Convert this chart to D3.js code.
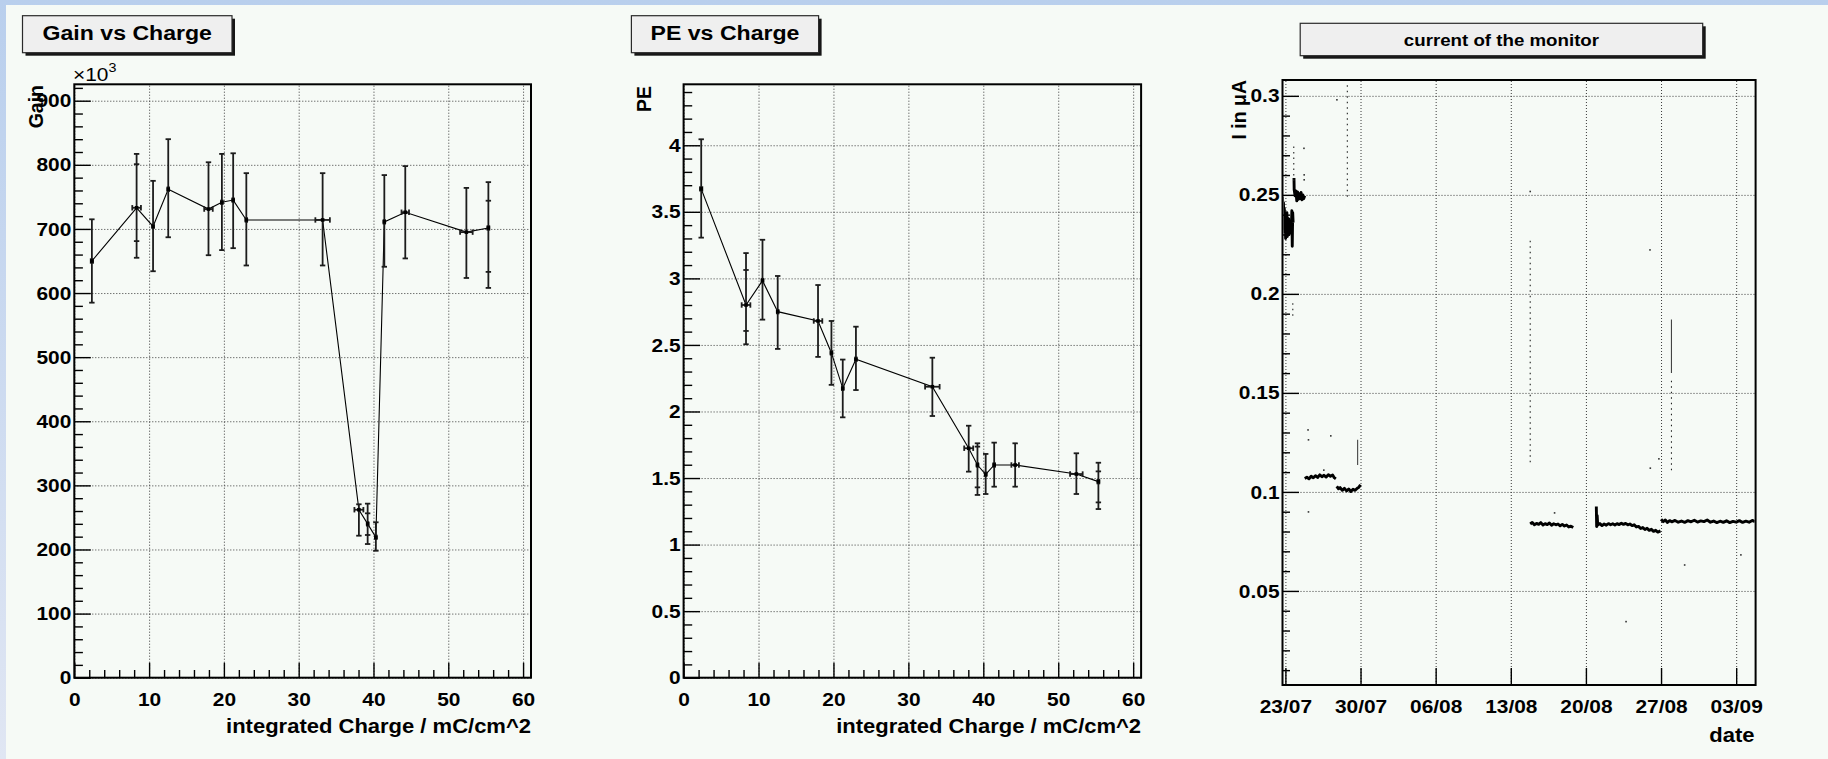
<!DOCTYPE html>
<html>
<head>
<meta charset="utf-8">
<script src="https://cdn.jsdelivr.net/npm/d3@7"></script>
<style>
  html, body { margin: 0; padding: 0; overflow: hidden; background: #ffffff; }
  svg { display: block; }
</style>
</head>
<body>
<svg id="canvas" width="1828" height="759"></svg>
<script>
// ---------------------------------------------------------------------------
// Measurements versus integrated charge (shared by the Gain and PE pads)
// ---------------------------------------------------------------------------
const charge    = [2.35, 8.33, 10.53, 12.56, 17.94, 19.73, 21.24, 23.0, 33.2, 38.05, 39.22, 40.32, 41.45, 44.25, 52.42, 55.36];
const chargeErr = [0.15, 0.58, 0.1, 0.1, 0.57, 0.1, 0.1, 0.1, 0.97, 0.6, 0.1, 0.1, 0.1, 0.5, 0.84, 0.12];

// Gain (units of 10^3) with lower / upper error limits
const gain     = [650, 733, 704, 762, 731, 741.5, 745, 714, 714, 262, 240, 219, 711, 726, 695, 701.5];
const gainLow  = [585, 655, 634, 687, 659, 667, 670, 643, 643, 221.5, 208.5, 198, 641, 654, 623.5, 608];
const gainHigh = [715, 817, 775, 840, 804, 817, 818, 787, 787, 270.5, 271.5, 242.4, 784, 798, 764, 773];
// second (statistical) error limits: [point index, low, high]
const gainInner = [[1, 681, 801], [10, 222.6, 256.4], [15, 633, 744]];

// Photo-electrons with lower / upper error limits
const pe     = [3.672, 2.80, 2.983, 2.75, 2.68, 2.44, 2.174, 2.392, 2.186, 1.724, 1.598, 1.528, 1.598, 1.598, 1.530, 1.473];
const peLow  = [3.306, 2.505, 2.69, 2.47, 2.41, 2.20, 1.956, 2.161, 1.966, 1.548, 1.373, 1.380, 1.435, 1.435, 1.380, 1.267];
const peHigh = [4.045, 3.19, 3.29, 3.018, 2.95, 2.68, 2.39, 2.637, 2.404, 1.893, 1.761, 1.681, 1.766, 1.761, 1.686, 1.615];
const peInner = [[1, 2.605, 3.063], [10, 1.43, 1.736], [15, 1.317, 1.55]];

const chargeTicks = [0, 10, 20, 30, 40, 50, 60];
const gainTicks   = [0, 100, 200, 300, 400, 500, 600, 700, 800, 900];
const peTicks     = [0, 0.5, 1, 1.5, 2, 2.5, 3, 3.5, 4];

// ---------------------------------------------------------------------------
// Monitor current (uA); time given in days after 23/07 00:00
// ---------------------------------------------------------------------------
const dateLabels = ["23/07", "30/07", "06/08", "13/08", "20/08", "27/08", "03/09"];
const monitorYear = 2008;

const monitorRunA = [[-0.27,0.249],[-0.22,0.238],[-0.18,0.246],[-0.14,0.233],[-0.10,0.243],[-0.06,0.231],[-0.02,0.240],[0.02,0.228],[0.06,0.237],[0.10,0.232],[0.14,0.241],[0.18,0.229],[0.22,0.236],[0.26,0.233],[0.30,0.238],[0.34,0.230],[0.38,0.235],[0.42,0.231],[0.46,0.234],[0.50,0.236],[0.55,0.232],[0.60,0.242],[0.64,0.224],[0.68,0.241],[0.72,0.236]];
const monitorRunB = [[0.80,0.2585],[0.82,0.2525],[0.90,0.2495],[0.98,0.2520],[1.06,0.2470],[1.14,0.2515],[1.22,0.2478],[1.30,0.2505],[1.38,0.2482],[1.46,0.2512],[1.54,0.2475],[1.62,0.2500],[1.70,0.2480],[1.80,0.2495]];
const monitorRunC = [[1.80,0.1068],[2.0,0.1074],[2.2,0.1066],[2.4,0.1079],[2.6,0.1071],[2.8,0.1082],[3.0,0.1073],[3.2,0.1086],[3.4,0.1077],[3.6,0.1084],[3.8,0.1075],[4.0,0.1087],[4.2,0.1079],[4.4,0.1085],[4.55,0.1072],[4.70,0.1066]];
const monitorRunD = [[4.78,0.1028],[4.95,0.1016],[5.1,0.1022],[5.3,0.1008],[5.5,0.1018],[5.7,0.1005],[5.9,0.1015],[6.1,0.1002],[6.3,0.1013],[6.5,0.1008],[6.7,0.1019],[6.85,0.1024],[7.0,0.1036]];
const monitorRunE = [[22.81,0.0838],[23.0,0.0846],[23.2,0.0834],[23.4,0.0841],[23.6,0.0836],[23.8,0.0845],[24.0,0.0833],[24.2,0.0840],[24.4,0.0835],[24.6,0.0843],[24.8,0.0832],[25.0,0.0839],[25.2,0.0834],[25.4,0.0838],[25.6,0.0829],[25.8,0.0836],[26.0,0.0828],[26.2,0.0833],[26.4,0.0823],[26.6,0.0827],[26.82,0.0820]];
const monitorRunF = [[28.97,0.0926],[29.0,0.0825],[29.05,0.0880],[29.1,0.0832],[29.3,0.0840],[29.5,0.0830],[29.7,0.0838],[29.9,0.0832],[30.1,0.0840],[30.3,0.0834],[30.5,0.0839],[30.7,0.0833],[30.9,0.0840],[31.1,0.0835],[31.3,0.0842],[31.5,0.0836],[31.7,0.0841],[31.9,0.0834],[32.1,0.0838],[32.3,0.0830],[32.5,0.0834],[32.7,0.0823],[32.9,0.0826],[33.1,0.0815],[33.3,0.0820],[33.5,0.0810],[33.7,0.0816],[33.9,0.0806],[34.1,0.0811],[34.3,0.0801],[34.5,0.0806],[34.7,0.0797],[34.95,0.0803]];
const monitorRunG = [[35.0,0.0862],[35.2,0.0850],[35.4,0.0858],[35.6,0.0846],[35.8,0.0855],[36.0,0.0849],[36.3,0.0856],[36.6,0.0847],[36.9,0.0853],[37.2,0.0846],[37.5,0.0855],[37.8,0.0849],[38.1,0.0857],[38.4,0.0848],[38.7,0.0854],[39.0,0.0850],[39.3,0.0858],[39.6,0.0847],[39.9,0.0853],[40.2,0.0845],[40.5,0.0852],[40.8,0.0846],[41.1,0.0854],[41.4,0.0845],[41.7,0.0851],[42.0,0.0847],[42.3,0.0855],[42.6,0.0846],[42.9,0.0852],[43.2,0.0847],[43.5,0.0856],[43.75,0.0850]];

// sparse readings forming vertical streaks: [day, from, to]
const monitorStreaks = [[0.78,0.257,0.276],[0.69,0.189,0.197],[5.77,0.249,0.3055],[22.81,0.115,0.228],[35.97,0.111,0.157]];
// dense vertical bursts: [day, from, to]
const monitorBursts = [[6.73,0.1136,0.1263],[35.97,0.160,0.187]];
// isolated readings: [day, value]
const monitorStrays = [[4.8,0.298],[1.73,0.2735],[1.75,0.2601],[1.75,0.2576],[2.11,0.1313],[2.15,0.1263],[4.23,0.1283],[2.15,0.0899],[3.58,0.111],[22.81,0.2517],[33.97,0.2222],[34.8,0.1167],[34.0,0.112],[37.2,0.0631],[31.74,0.0345],[42.44,0.0682],[25.08,0.0894]];
const monitorTicks = [0.05, 0.1, 0.15, 0.2, 0.25, 0.3];

// ---------------------------------------------------------------------------
const FONT = '"Liberation Sans", Arial, Helvetica, sans-serif';
const STRETCH = 1.1;           // the pad fonts are drawn slightly wide
const svg = d3.select("#canvas");

// window background and pad
const defs = svg.append("defs");
const edge = defs.append("linearGradient").attr("id", "edge")
  .attr("x1", 0).attr("y1", 0).attr("x2", 0).attr("y2", 1);
edge.append("stop").attr("offset", 0).attr("stop-color", "#b9cfed");
edge.append("stop").attr("offset", 1).attr("stop-color", "#e0e6f3");
svg.append("rect").attr("width", 1828).attr("height", 759).attr("fill", "url(#edge)");
svg.append("rect").attr("x", 6).attr("y", 5).attr("width", 1822).attr("height", 754).attr("fill", "#f6faf6");

function wideText(parent, x, y, str, size, opts = {}) {
  const g = parent.append("g").attr("transform", `translate(${x},${y})`);
  const t = g.append("text")
    .attr("transform", `scale(${STRETCH},1)`)
    .attr("font-family", FONT)
    .attr("font-weight", opts.weight || "bold")
    .attr("font-size", size)
    .attr("text-anchor", opts.anchor || "start")
    .attr("fill", "#000")
    .text(str);
  return t;
}

function rotatedTitle(x, y, str) {
  svg.append("text")
    .attr("transform", `translate(${x},${y}) rotate(-90)`)
    .attr("font-family", FONT).attr("font-weight", "bold").attr("font-size", 19.5)
    .attr("text-anchor", "end").attr("fill", "#000")
    .text(str);
}

function titleBox(b) {
  svg.append("rect").attr("x", b.x + 3).attr("y", b.y + 3).attr("width", b.w).attr("height", b.h).attr("fill", "#161616");
  svg.append("rect").attr("x", b.x).attr("y", b.y).attr("width", b.w).attr("height", b.h)
    .attr("fill", "#efefef").attr("stroke", "#2a2a2a").attr("stroke-width", 1.2);
  wideText(svg, b.x + b.w / 2, b.base, b.text, b.size, { anchor: "middle" });
}

function styleAxis(sel, size) {
  sel.select(".domain").remove();
  sel.selectAll(".tick line").attr("stroke", "#000").attr("stroke-width", 1.4);
  sel.selectAll(".tick text")
    .attr("font-size", size).attr("font-family", FONT).attr("font-weight", "bold").attr("fill", "#000")
    .each(function () {
      const t = d3.select(this);
      t.attr("x", (+t.attr("x") || 0) / STRETCH).attr("transform", `scale(${STRETCH},1)`);
    });
}

function styleGrid(sel) {
  sel.select(".domain").remove();
  sel.selectAll(".tick line").attr("stroke", "#3a3a3a").attr("stroke-width", 1).attr("stroke-dasharray", "1,2");
}

function range(a, b, step) {
  const out = [];
  for (let v = a; v <= b + 1e-9; v += step) out.push(+v.toFixed(6));
  return out;
}

// ---------------------------------------------------------------------------
// Pad: quantity versus integrated charge, with error bars
// ---------------------------------------------------------------------------
function chargePad(p) {
  const x = d3.scaleLinear().domain([0, 61.06]).range([p.left, p.right]);
  const y = d3.scaleLinear().domain([0, p.yMax]).range([p.bottom, p.top]);
  const h = p.bottom - p.top, w = p.right - p.left;
  const g = svg.append("g");

  // dotted grid
  g.append("g").attr("transform", `translate(0,${p.bottom})`)
    .call(d3.axisBottom(x).tickValues(chargeTicks).tickSize(-h).tickFormat(""))
    .call(styleGrid);
  g.append("g").attr("transform", `translate(${p.left},0)`)
    .call(d3.axisLeft(y).tickValues(p.yTicks).tickSize(-w).tickFormat(""))
    .call(styleGrid);

  // minor ticks
  const xMinor = range(0, 61, 2).filter(v => v % 10 !== 0);
  g.append("g").attr("transform", `translate(0,${p.bottom})`)
    .call(d3.axisBottom(x).tickValues(xMinor).tickSize(-7.7).tickFormat(""))
    .call(s => styleAxis(s, 19));
  const yMinor = range(0, p.yMax, p.yMinorStep).filter(v => !p.yTicks.some(t => Math.abs(t - v) < 1e-6));
  g.append("g").attr("transform", `translate(${p.left},0)`)
    .call(d3.axisLeft(y).tickValues(yMinor).tickSize(-8.6).tickFormat(""))
    .call(s => styleAxis(s, 19));

  // major ticks with labels
  g.append("g").attr("transform", `translate(0,${p.bottom})`)
    .call(d3.axisBottom(x).tickValues(chargeTicks).tickSize(-15).tickPadding(14.6).tickFormat(d3.format("d")))
    .call(s => styleAxis(s, 19));
  g.append("g").attr("transform", `translate(${p.left},0)`)
    .call(d3.axisLeft(y).tickValues(p.yTicks).tickSize(-16.5).tickPadding(3).tickFormat(p.fmt))
    .call(s => styleAxis(s, 19));

  // frame
  g.append("rect").attr("x", p.left).attr("y", p.top).attr("width", w).attr("height", h)
    .attr("fill", "none").attr("stroke", "#000").attr("stroke-width", 2);

  // connecting line
  g.append("path")
    .datum(charge.map((c, i) => [c, p.vals[i]]))
    .attr("fill", "none").attr("stroke", "#000").attr("stroke-width", 1.1)
    .attr("d", d3.line().x(d => x(d[0])).y(d => y(d[1])));

  // error bars
  const pts = charge.map((c, i) => ({ c, ex: chargeErr[i], v: p.vals[i], lo: p.lo[i], hi: p.hi[i] }));
  const eb = g.append("g").attr("stroke", "#1c1c1c").attr("stroke-width", 1.8).attr("fill", "none");
  const cap = 2.7;
  eb.selectAll(".ev").data(pts).join("line")
    .attr("x1", d => x(d.c)).attr("x2", d => x(d.c)).attr("y1", d => y(d.lo)).attr("y2", d => y(d.hi));
  eb.selectAll(".cl").data(pts.flatMap(d => [[d.c, d.lo], [d.c, d.hi]])).join("line")
    .attr("x1", d => x(d[0]) - cap).attr("x2", d => x(d[0]) + cap).attr("y1", d => y(d[1])).attr("y2", d => y(d[1]));
  eb.selectAll(".eh").data(pts).join("line")
    .attr("x1", d => x(d.c - d.ex)).attr("x2", d => x(d.c + d.ex)).attr("y1", d => y(d.v)).attr("y2", d => y(d.v));
  eb.selectAll(".ch").data(pts.flatMap(d => [[d.c - d.ex, d.v], [d.c + d.ex, d.v]])).join("line")
    .attr("x1", d => x(d[0])).attr("x2", d => x(d[0])).attr("y1", d => y(d[1]) - cap).attr("y2", d => y(d[1]) + cap);
  eb.selectAll(".ci").data(p.inner.flatMap(([i, a, b]) => [[charge[i], a], [charge[i], b]])).join("line")
    .attr("x1", d => x(d[0]) - cap).attr("x2", d => x(d[0]) + cap).attr("y1", d => y(d[1])).attr("y2", d => y(d[1]));

  // markers
  g.selectAll(".mk").data(pts).join("rect")
    .attr("x", d => x(d.c) - 1.8).attr("y", d => y(d.v) - 1.8).attr("width", 3.6).attr("height", 3.6)
    .attr("fill", "#000");

  // axis title along x
  wideText(svg, p.right, 733, "integrated Charge / mC/cm^2", 20, { anchor: "end" });
  return { x, y };
}

// Gain pad
chargePad({
  left: 74.3, right: 531, top: 84.3, bottom: 677.7,
  yMax: 925.6, yTicks: gainTicks, yMinorStep: 20, fmt: d3.format("d"),
  vals: gain, lo: gainLow, hi: gainHigh, inner: gainInner
});
titleBox({ x: 22.5, y: 15.7, w: 209.5, h: 37, base: 40, size: 21, text: "Gain vs Charge" });
rotatedTitle(43, 85, "Gain");
{
  const t = wideText(svg, 73, 81, "\u00d710", 19, { weight: "normal" });
  t.append("tspan").attr("dy", -9).attr("font-size", 13).text("3");
}

// PE pad
chargePad({
  left: 683.6, right: 1141.1, top: 84.3, bottom: 677.7,
  yMax: 4.458, yTicks: peTicks, yMinorStep: 0.1, fmt: d => String(+d.toFixed(2)),
  vals: pe, lo: peLow, hi: peHigh, inner: peInner
});
titleBox({ x: 631.4, y: 15.7, w: 187.2, h: 37, base: 40, size: 21, text: "PE vs Charge" });
rotatedTitle(651, 86, "PE");

// ---------------------------------------------------------------------------
// Pad: monitor current versus date
// ---------------------------------------------------------------------------
{
  const parseDay = d3.timeParse("%d/%m/%Y");
  const t0 = parseDay(dateLabels[0] + "/" + monitorYear);
  const at = d => new Date(t0.getTime() + d * 86400000);
  const tickDates = dateLabels.map(s => parseDay(s + "/" + monitorYear));

  const p = { left: 1282.5, right: 1755.6, top: 80, bottom: 685 };
  const w = p.right - p.left, h = p.bottom - p.top;
  const x = d3.scaleTime().domain([at(-0.27), at(43.81)]).range([p.left, p.right]);
  const y = d3.scaleLinear().domain([0.0025, 0.308]).range([p.bottom, p.top]);
  const g = svg.append("g");

  g.append("g").attr("transform", `translate(0,${p.bottom})`)
    .call(d3.axisBottom(x).tickValues(tickDates).tickSize(-h).tickFormat(""))
    .call(styleGrid);
  g.append("g").attr("transform", `translate(${p.left},0)`)
    .call(d3.axisLeft(y).tickValues(monitorTicks).tickSize(-w).tickFormat(""))
    .call(styleGrid);

  const yMinor = range(0.01, 0.30, 0.01).filter(v => !monitorTicks.some(t => Math.abs(t - v) < 1e-6));
  g.append("g").attr("transform", `translate(${p.left},0)`)
    .call(d3.axisLeft(y).tickValues(yMinor).tickSize(-7.5).tickFormat(""))
    .call(s => styleAxis(s, 19));
  g.append("g").attr("transform", `translate(${p.left},0)`)
    .call(d3.axisLeft(y).tickValues(monitorTicks).tickSize(-16.5).tickPadding(3).tickFormat(d => String(+d.toFixed(3))))
    .call(s => styleAxis(s, 19));
  g.append("g").attr("transform", `translate(0,${p.bottom})`)
    .call(d3.axisBottom(x).tickValues(tickDates).tickSize(-17).tickPadding(15).tickFormat(d3.timeFormat("%d/%m")))
    .call(s => styleAxis(s, 19));

  g.append("rect").attr("x", p.left).attr("y", p.top).attr("width", w).attr("height", h)
    .attr("fill", "none").attr("stroke", "#000").attr("stroke-width", 2);

  const clip = defs.append("clipPath").attr("id", "monClip");
  clip.append("rect").attr("x", p.left + 1).attr("y", p.top + 1).attr("width", w - 2).attr("height", h - 2);
  const data = g.append("g").attr("clip-path", "url(#monClip)");

  // dense runs of readings
  const line = d3.line().x(d => x(at(d[0]))).y(d => y(d[1]));
  data.selectAll(".run")
    .data([monitorRunA, monitorRunB, monitorRunC, monitorRunD, monitorRunE, monitorRunF, monitorRunG])
    .join("path")
    .attr("fill", "none").attr("stroke", "#000").attr("stroke-width", 2.9).attr("stroke-linejoin", "round")
    .attr("d", line);

  // sparse vertical streaks
  data.selectAll(".streak").data(monitorStreaks).join("line")
    .attr("x1", d => x(at(d[0]))).attr("x2", d => x(at(d[0])))
    .attr("y1", d => y(d[1])).attr("y2", d => y(d[2]))
    .attr("stroke", "#222").attr("stroke-width", 1.1).attr("stroke-dasharray", "1.5,4");

  // dense vertical bursts
  data.selectAll(".burst").data(monitorBursts).join("line")
    .attr("x1", d => x(at(d[0]))).attr("x2", d => x(at(d[0])))
    .attr("y1", d => y(d[1])).attr("y2", d => y(d[2]))
    .attr("stroke", "#444").attr("stroke-width", 1.1);

  // isolated readings
  data.selectAll(".stray").data(monitorStrays).join("rect")
    .attr("x", d => x(at(d[0])) - 0.8).attr("y", d => y(d[1]) - 0.8)
    .attr("width", 1.6).attr("height", 1.6).attr("fill", "#333");

  wideText(svg, p.right - 1, 741.5, "date", 20, { anchor: "end" });
  titleBox({ x: 1300.2, y: 23.3, w: 402.5, h: 32.4, base: 45.6, size: 17, text: "current of the monitor" });
  rotatedTitle(1246, 80, "I in \u03bcA");
}
</script>
</body>
</html>
